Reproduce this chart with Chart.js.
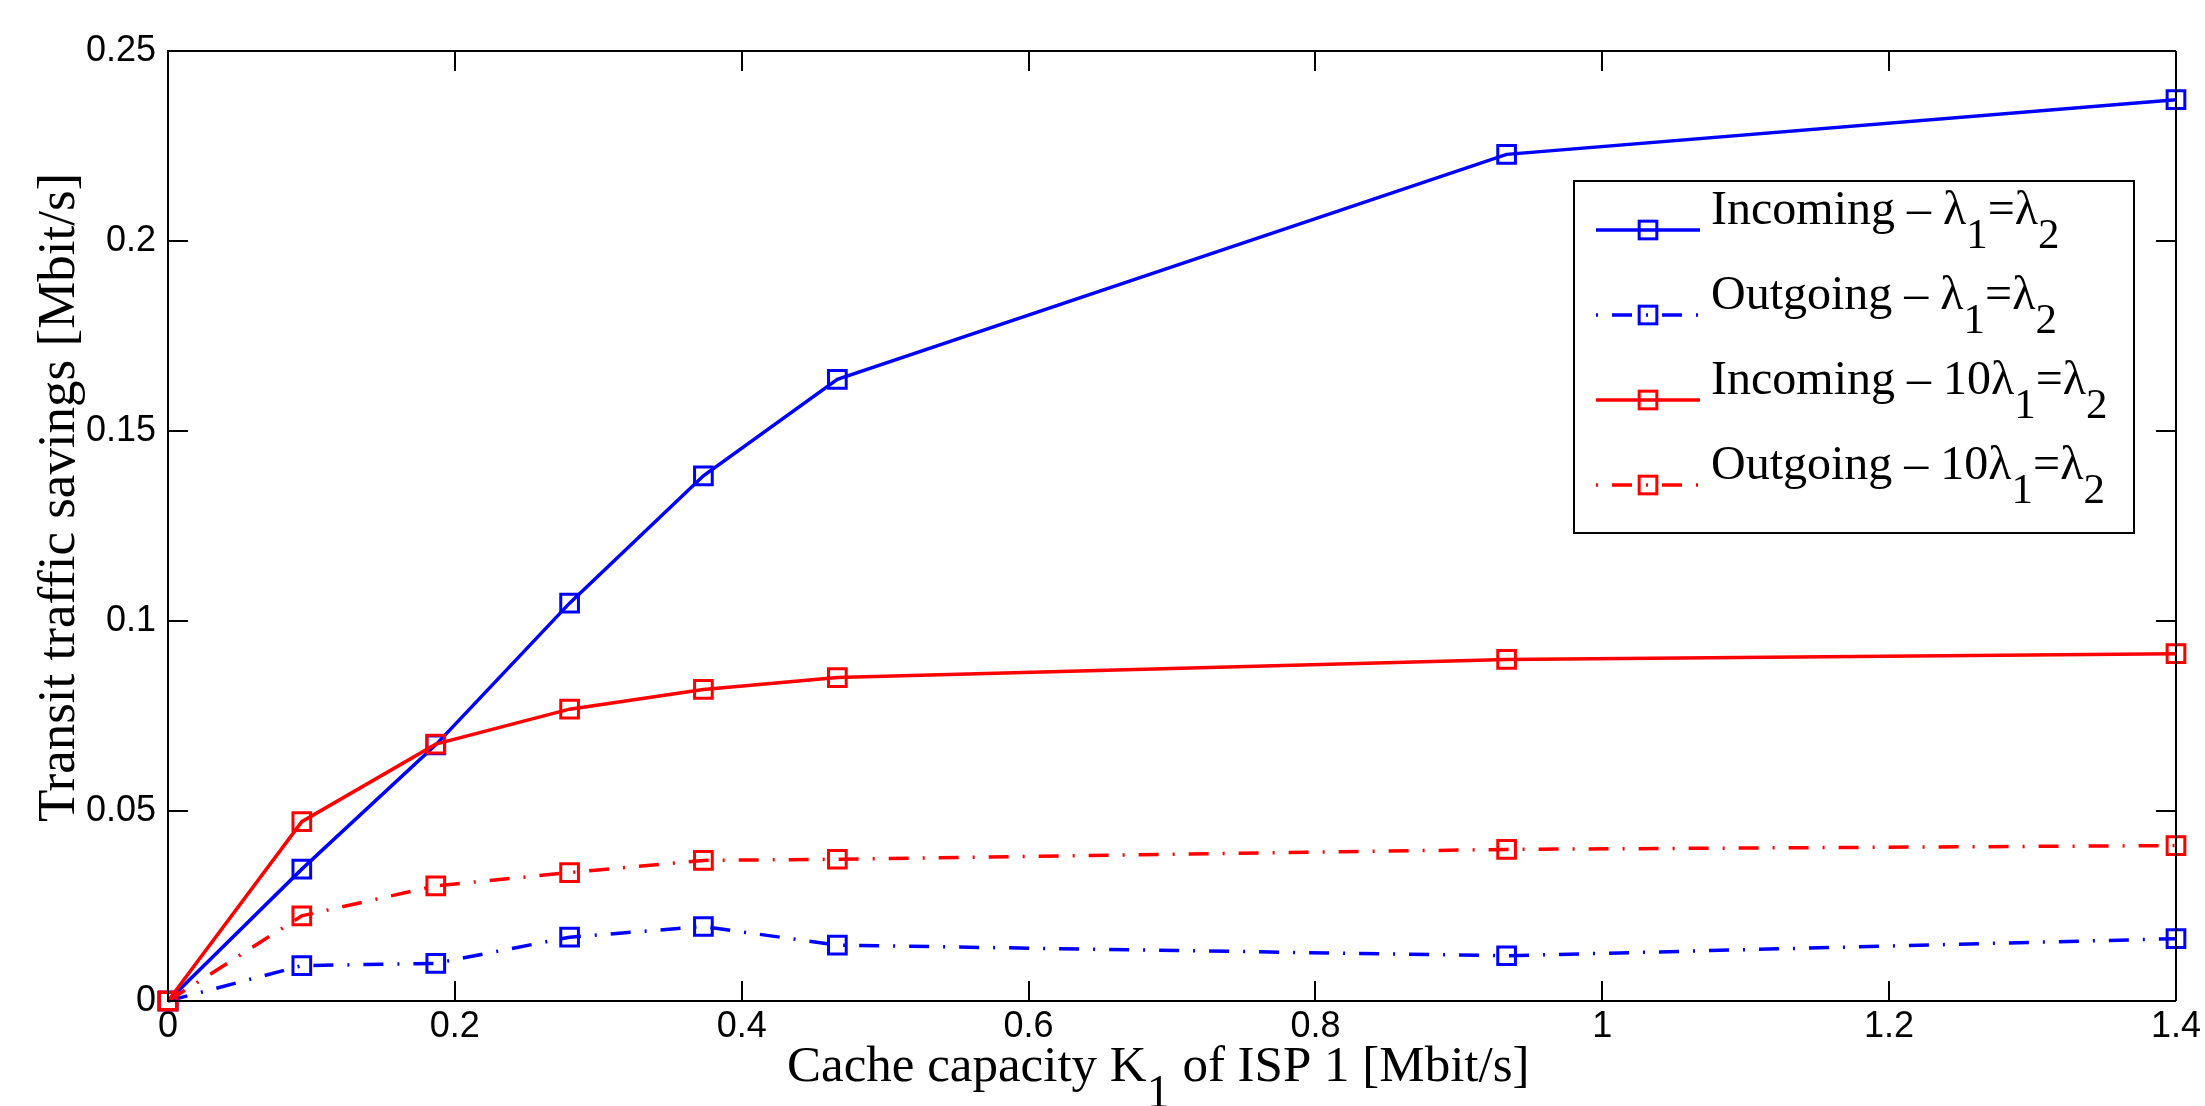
<!DOCTYPE html>
<html>
<head>
<meta charset="utf-8">
<title>Transit traffic savings</title>
<script src="https://cdn.jsdelivr.net/npm/chart.js@4.4.1/dist/chart.umd.min.js"></script>
<style>
  html, body { margin: 0; padding: 0; background: #ffffff; }
  #wrap { width: 2205px; height: 1106px; }
</style>
</head>
<body>
<div id="wrap"><canvas id="chart" width="2205" height="1106"></canvas></div>
<script>
// Cache capacity K1 of ISP 1 [Mbit/s]
const cacheCapacity = [0, 0.0933, 0.1867, 0.28, 0.3733, 0.4667, 0.9333, 1.4];

// Transit traffic savings [Mbit/s]
const incomingEqual   = [0, 0.0347, 0.0674, 0.1047, 0.1382, 0.1636, 0.2228, 0.2372];
const outgoingEqual   = [0, 0.0093, 0.0099, 0.0168, 0.0196, 0.0147, 0.0119, 0.0164];
const incomingTenfold = [0, 0.0472, 0.0676, 0.0768, 0.0820, 0.0851, 0.0899, 0.0914];
const outgoingTenfold = [0, 0.0224, 0.0303, 0.0338, 0.0370, 0.0373, 0.0399, 0.0409];

// Series names; "_x" marks a one-character subscript
const seriesNames = [
  'Incoming – λ_1=λ_2',
  'Outgoing – λ_1=λ_2',
  'Incoming – 10λ_1=λ_2',
  'Outgoing – 10λ_1=λ_2'
];

const xTickValues = [0, 0.2, 0.4, 0.6, 0.8, 1, 1.2, 1.4];
const xTickLabels = ['0', '0.2', '0.4', '0.6', '0.8', '1', '1.2', '1.4'];
const yTickValues = [0, 0.05, 0.1, 0.15, 0.2, 0.25];
const yTickLabels = ['0', '0.05', '0.1', '0.15', '0.2', '0.25'];

const xTitle = 'Cache capacity K_1 of ISP 1 [Mbit/s]';
const yTitle = 'Transit traffic savings [Mbit/s]';

const BLUE = '#0000ff';
const RED = '#ff0000';
const DASH_DOT = [20, 14, 2, 14];
const SANS = "'Liberation Sans', Arial, Helvetica, sans-serif";
const SERIF = "'Liberation Serif', 'Times New Roman', serif";

function points(ys) {
  return cacheCapacity.map((x, i) => ({ x: x, y: ys[i] }));
}

function series(name, ys, color, dash, order) {
  return {
    label: name,
    data: points(ys),
    borderColor: color,
    borderWidth: 3.5,
    borderDash: dash,
    pointStyle: 'rect',
    pointRadius: 12.5,
    pointBorderWidth: 3,
    pointBorderColor: color,
    pointBackgroundColor: 'rgba(0,0,0,0)',
    pointHoverRadius: 12.5,
    fill: false,
    tension: 0,
    clip: false,
    order: order
  };
}

// Splits "abc_1def" into plain and subscript runs
function parseRich(text) {
  const runs = [];
  for (let i = 0; i < text.length; i++) {
    if (text[i] === '_' && i + 1 < text.length) {
      runs.push({ t: text[i + 1], sub: true });
      i++;
    } else {
      if (!runs.length || runs[runs.length - 1].sub) runs.push({ t: '', sub: false });
      runs[runs.length - 1].t += text[i];
    }
  }
  return runs;
}

function drawRich(ctx, text, x, y, size) {
  const subSize = Math.round(size * 0.9);
  const drop = size * 0.5;
  ctx.textAlign = 'left';
  ctx.textBaseline = 'alphabetic';
  let cx = x;
  for (const r of parseRich(text)) {
    ctx.font = (r.sub ? subSize : size) + 'px ' + SERIF;
    ctx.fillText(r.t, cx, r.sub ? y + drop : y);
    cx += ctx.measureText(r.t).width;
  }
  return cx - x;
}

// Box around the plot with inward tick marks on all four sides
const framePlugin = {
  id: 'frame',
  afterDraw(chart) {
    const { ctx, chartArea: a, scales } = chart;
    const len = 20;
    ctx.save();
    ctx.strokeStyle = '#000';
    ctx.lineWidth = 2;
    ctx.beginPath();
    ctx.moveTo(a.left, a.top); ctx.lineTo(a.right, a.top);
    ctx.moveTo(a.right, a.top); ctx.lineTo(a.right, a.bottom);
    for (const t of scales.x.ticks) {
      const px = Math.round(scales.x.getPixelForValue(t.value));
      ctx.moveTo(px, a.bottom); ctx.lineTo(px, a.bottom - len);
      ctx.moveTo(px, a.top); ctx.lineTo(px, a.top + len);
    }
    for (const t of scales.y.ticks) {
      const py = Math.round(scales.y.getPixelForValue(t.value));
      ctx.moveTo(a.left, py); ctx.lineTo(a.left + len, py);
      ctx.moveTo(a.right, py); ctx.lineTo(a.right - len, py);
    }
    ctx.stroke();
    ctx.restore();
  }
};

// Boxed legend in the upper right of the plot
const legendPlugin = {
  id: 'boxLegend',
  afterDraw(chart) {
    const { ctx } = chart;
    const box = { x: 1574, y: 181, w: 560, h: 352 };
    ctx.save();
    ctx.fillStyle = '#fff';
    ctx.fillRect(box.x, box.y, box.w, box.h);
    ctx.strokeStyle = '#000';
    ctx.lineWidth = 2;
    ctx.strokeRect(box.x, box.y, box.w, box.h);
    chart.data.datasets.forEach((ds, i) => {
      const ly = 230 + i * 85;
      ctx.strokeStyle = ds.borderColor;
      ctx.lineWidth = ds.borderWidth;
      ctx.setLineDash(ds.borderDash || []);
      ctx.lineDashOffset = 34;
      ctx.beginPath();
      ctx.moveTo(1596, ly);
      ctx.lineTo(1700, ly);
      ctx.stroke();
      ctx.setLineDash([]);
      ctx.lineWidth = ds.pointBorderWidth;
      const s = ds.pointRadius * Math.SQRT1_2;
      ctx.strokeRect(1648 - s, ly - s, 2 * s, 2 * s);
      ctx.fillStyle = '#000';
      drawRich(ctx, ds.label, 1711, ly - 6, 48);
    });
    ctx.restore();
  }
};

// Axis titles with subscripts
const titlePlugin = {
  id: 'axisTitles',
  afterDraw(chart) {
    const { ctx } = chart;
    ctx.save();
    ctx.fillStyle = '#000';
    drawRich(ctx, xTitle, 787, 1081, 51);
    ctx.translate(74, 822);
    ctx.rotate(-Math.PI / 2);
    drawRich(ctx, yTitle, 0, 0, 53);
    ctx.restore();
  }
};

new Chart(document.getElementById('chart'), {
  type: 'line',
  data: {
    datasets: [
      series(seriesNames[0], incomingEqual, BLUE, [], 4),
      series(seriesNames[1], outgoingEqual, BLUE, DASH_DOT, 3),
      series(seriesNames[2], incomingTenfold, RED, [], 2),
      series(seriesNames[3], outgoingTenfold, RED, DASH_DOT, 1)
    ]
  },
  options: {
    responsive: false,
    animation: false,
    events: [],
    layout: { padding: { left: 0, top: 51, right: 27, bottom: 0 } },
    plugins: { legend: { display: false }, tooltip: { enabled: false } },
    scales: {
      x: {
        type: 'linear',
        min: 0,
        max: 1.4,
        afterBuildTicks(s) { s.ticks = xTickValues.map(v => ({ value: v })); },
        afterFit(s) { s.height = 105; },
        ticks: {
          callback: (v, i) => xTickLabels[i],
          font: { family: SANS, size: 36 },
          color: '#000',
          padding: 4,
          maxRotation: 0,
          autoSkip: false
        },
        grid: { display: false, drawTicks: false },
        border: { display: true, color: '#000', width: 2 }
      },
      y: {
        type: 'linear',
        min: 0,
        max: 0.25,
        afterBuildTicks(s) { s.ticks = yTickValues.map(v => ({ value: v })); },
        afterFit(s) { s.width = 168; },
        ticks: {
          callback: (v, i) => yTickLabels[i],
          font: { family: SANS, size: 36 },
          color: '#000',
          padding: 12,
          autoSkip: false
        },
        grid: { display: false, drawTicks: false },
        border: { display: true, color: '#000', width: 2 }
      }
    }
  },
  plugins: [framePlugin, legendPlugin, titlePlugin]
});
</script>
</body>
</html>
